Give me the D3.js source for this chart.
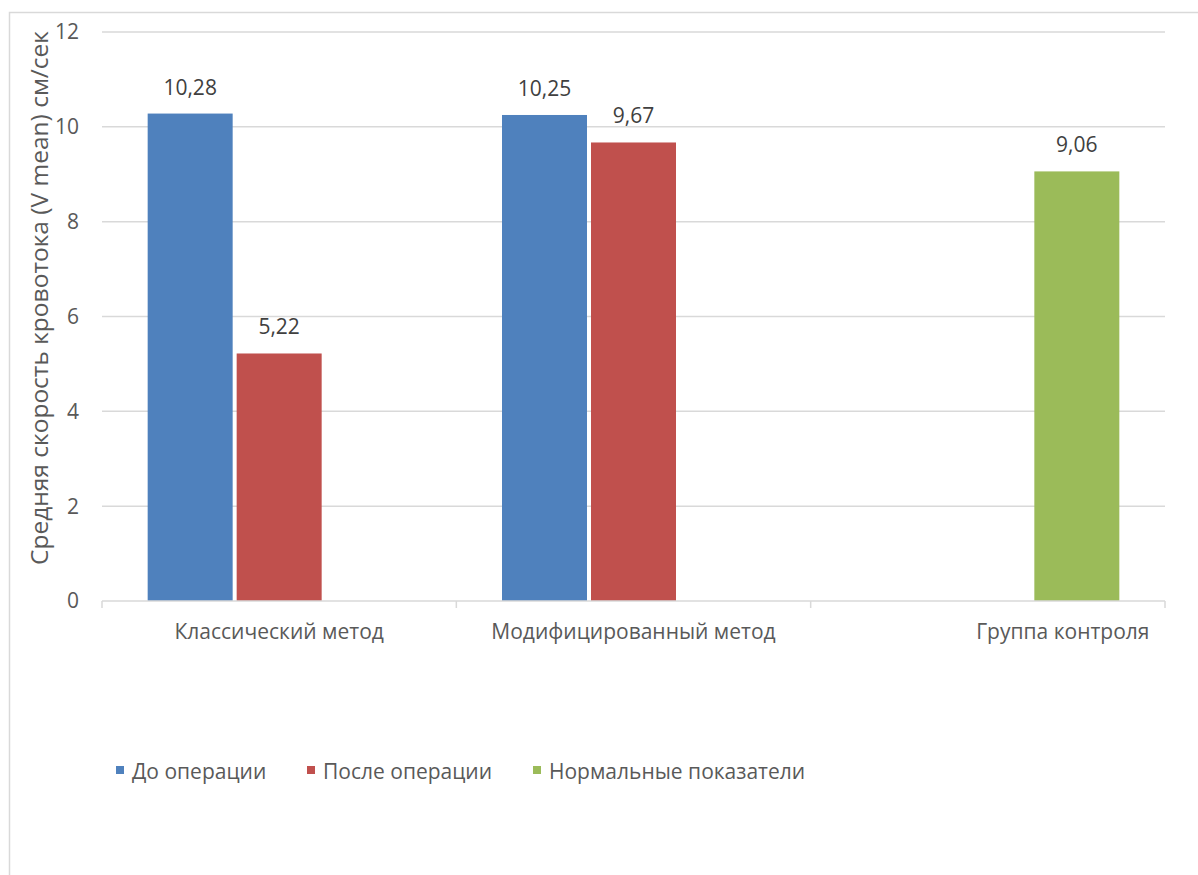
<!DOCTYPE html>
<html>
<head>
<meta charset="utf-8">
<script src="https://cdn.jsdelivr.net/npm/d3@7"></script>
<style>
  body { margin: 0; background: #fff; }
  svg { display: block; font-family: "Open Sans", "Noto Sans", sans-serif; }
</style>
</head>
<body>
<svg id="chart" width="1198" height="875"></svg>
<script>
// data
const categories = ["Классический метод", "Модифицированный метод", "Группа контроля"];
const seriesNames = ["До операции", "После операции", "Нормальные показатели"];
const seriesColors = ["#4f81bd", "#c0504d", "#9bbb59"];
const beforeOp = [10.28, 10.25, null];
const afterOp = [5.22, 9.67, null];
const normal = [null, null, 9.06];
const yTicks = [0, 2, 4, 6, 8, 10, 12];
const yTitle = "Средняя скорость кровотока (V mean) см/сек";

const svg = d3.select('#chart');
const margin = { top: 32, right: 33, bottom: 274, left: 102 };
const width = 1198;
const height = 875;
const innerW = width - margin.left - margin.right;
const innerH = height - margin.top - margin.bottom;
const fs = 21; // label font size

// outer border of chart area (cropped on right/bottom)
svg.append('rect')
    .attr('x', 9.5).attr('y', 12.5)
    .attr('width', 1300).attr('height', 1000)
    .attr('fill', '#fff')
    .attr('stroke', '#d9d9d9')
    .attr('stroke-width', 1.5);

const g = svg.append('g')
    .attr('transform', `translate(${margin.left}, ${margin.top})`);

const y = d3.scaleLinear().domain([0, 12]).range([innerH, 0]);
const x0 = d3.scaleBand().domain(categories).range([0, innerW]).padding(0);
const groupW = 263;
const x1 = d3.scaleBand().domain(seriesNames)
    .range([(x0.bandwidth() - groupW) / 2, (x0.bandwidth() + groupW) / 2])
    .paddingInner(0.045);

// gridlines
g.append('g')
    .selectAll('line')
    .data(yTicks.filter(d => d > 0))
    .join('line')
    .attr('x1', 0).attr('x2', innerW)
    .attr('y1', d => y(d)).attr('y2', d => y(d))
    .attr('stroke', '#d9d9d9')
    .attr('stroke-width', 1.5);

// y tick labels
g.append('g')
    .selectAll('text')
    .data(yTicks)
    .join('text')
    .attr('x', -23)
    .attr('y', d => y(d))
    .attr('dy', '0.35em')
    .attr('text-anchor', 'end')
    .attr('fill', '#595959')
    .attr('font-size', fs)
    .text(d => d);

// bars
const rows = categories.map((c, i) => ({
    cat: c,
    vals: [beforeOp[i], afterOp[i], normal[i]]
}));

const groups = g.selectAll('.grp')
    .data(rows)
    .join('g')
    .attr('class', 'grp')
    .attr('transform', d => `translate(${x0(d.cat)},0)`);

const bars = groups.selectAll('g.bar')
    .data(d => d.vals.map((v, j) => ({ v, s: seriesNames[j], j })).filter(e => e.v !== null))
    .join('g')
    .attr('class', 'bar');

bars.append('rect')
    .attr('x', d => x1(d.s))
    .attr('y', d => y(d.v))
    .attr('width', x1.bandwidth())
    .attr('height', d => innerH - y(d.v))
    .attr('fill', d => seriesColors[d.j]);

bars.append('text')
    .attr('x', d => x1(d.s) + x1.bandwidth() / 2)
    .attr('y', d => y(d.v) - 19)
    .attr('text-anchor', 'middle')
    .attr('fill', '#404040')
    .attr('font-size', fs)
    .text(d => d3.format('.2f')(d.v).replace('.', ','));

// x axis line + ticks
const ax = g.append('g').attr('transform', `translate(0, ${innerH})`);
ax.append('line')
    .attr('x1', 0).attr('x2', innerW)
    .attr('stroke', '#d9d9d9').attr('stroke-width', 1.5);
ax.selectAll('line.tick')
    .data([0, 1, 2, 3])
    .join('line')
    .attr('class', 'tick')
    .attr('x1', i => i * x0.step()).attr('x2', i => i * x0.step())
    .attr('y1', 0).attr('y2', 7)
    .attr('stroke', '#d9d9d9').attr('stroke-width', 1.5);
// the last label sits under the green bar in the original (padded label)
const labelShift = [0, 0, 75];
ax.selectAll('text')
    .data(categories)
    .join('text')
    .attr('x', (d, i) => x0(d) + x0.bandwidth() / 2 + labelShift[i])
    .attr('y', 38)
    .attr('text-anchor', 'middle')
    .attr('fill', '#595959')
    .attr('font-size', fs)
    .text(d => d);

// y axis title
svg.append('text')
    .attr('transform', `translate(48, 298) rotate(-90)`)
    .attr('text-anchor', 'middle')
    .attr('fill', '#595959')
    .attr('font-size', 24.5)
    .text(yTitle);

// legend
const legendX = [116, 307, 533];
const legend = svg.append('g')
    .selectAll('g')
    .data(seriesNames)
    .join('g')
    .attr('transform', (d, i) => `translate(${legendX[i]}, 770)`);
legend.append('rect')
    .attr('x', 0).attr('y', -4)
    .attr('width', 8).attr('height', 8)
    .attr('fill', (d, i) => seriesColors[i]);
legend.append('text')
    .attr('x', 16)
    .attr('y', 9)
    .attr('fill', '#595959')
    .attr('font-size', fs)
    .text(d => d);
</script>
</body>
</html>
